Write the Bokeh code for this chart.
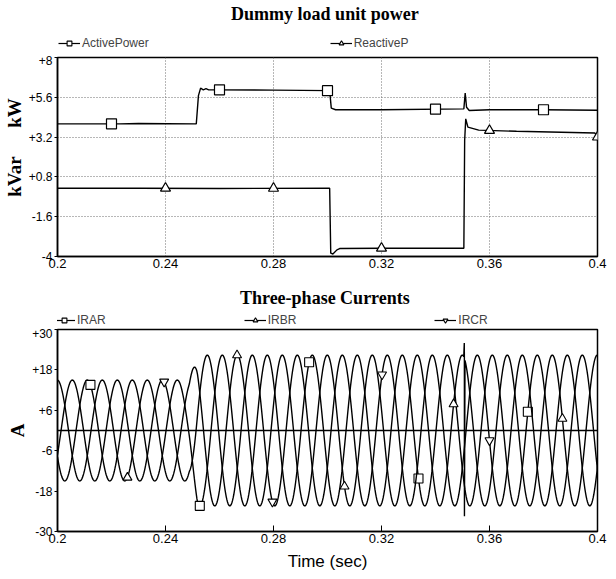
import numpy as np
from bokeh.plotting import figure
from bokeh.layouts import column
from bokeh.models import FixedTicker, Legend, LegendItem, Label, Range1d, Span
from bokeh.embed import file_html
from bokeh.resources import INLINE

# ---------------- data ----------------
X_TICKS = [0.2, 0.24, 0.28, 0.32, 0.36, 0.4]
X_TICK_LABELS = ["0.2", "0.24", "0.28", "0.32", "0.36", "0.4"]

P_TICKS = [-4, -1.6, 0.8, 3.2, 5.6, 8]
P_TICK_LABELS = ["-4", "-1.6", "+0.8", "+3.2", "+5.6", "+8"]

I_TICKS = [-30, -18, -6, 6, 18, 30]
I_TICK_LABELS = ["-30", "-18", "-6", "+6", "+18", "+30"]

# Dummy load unit power
ACTIVE_T = [0.2, 0.2230, 0.2300, 0.2514, 0.2522, 0.2530, 0.2540, 0.2550, 0.2560, 0.2580,
            0.2800, 0.3008, 0.3014, 0.3030, 0.3200, 0.3505, 0.3510, 0.3515, 0.3525, 0.3600, 0.3800, 0.4]
ACTIVE_KW = [4.0, 4.0, 4.02, 4.0, 5.7, 6.15, 6.05, 6.12, 6.05, 6.05,
             6.03, 6.0, 4.95, 4.85, 4.85, 4.9, 5.85, 5.0, 4.8, 4.85, 4.85, 4.82]
REACTIVE_T = [0.2, 0.2300, 0.2600, 0.3008, 0.3012, 0.3020, 0.3035, 0.3045, 0.3200, 0.3505,
              0.3508, 0.3512, 0.3520, 0.3560, 0.3700, 0.3990, 0.4]
REACTIVE_KVAR = [0.12, 0.12, 0.1, 0.12, -3.8, -3.85, -3.6, -3.52, -3.5, -3.5,
                 3.0, 4.3, 3.8, 3.62, 3.55, 3.45, 3.2]
ACTIVE_MARK_T = [0.22, 0.26, 0.30, 0.34, 0.38]
REACTIVE_MARK_T = [0.24, 0.28, 0.32, 0.36, 0.40]

# Three-phase currents (60 Hz, amplitude step at ~0.25 s)
FREQ_HZ = 60.0
AMP_T = [0.2, 0.2488, 0.2518, 0.4]
AMP_A = [15.0, 15.0, 22.4, 22.4]
PHASE_CYCLES = {"IRAR": 0.588, "IRBR": 0.255, "IRCR": 0.921}
SPIKE_T = [0.35066, 0.35072]          # switching transient on IRBR
SPIKE_A = [26.0, -25.5]
ZERO_LEVEL = 0.0
IRAR_MARK_T = [0.2122, 0.2527, 0.2932, 0.3337, 0.3742]
IRBR_MARK_T = [0.2259, 0.2665, 0.3063, 0.3467, 0.3870]
IRCR_MARK_T = [0.2395, 0.2796, 0.3202, 0.3600]

TITLE_TOP = "Dummy load unit power"
TITLE_BOTTOM = "Three-phase Currents"

# ---------------- styling helpers ----------------
SANS = "Liberation Sans"
SERIF = "Liberation Serif"
NBSP = "\u00a0"
W = 616


def style_axes(p, y_ticks, y_labels):
    p.xaxis.ticker = FixedTicker(ticks=X_TICKS)
    p.xaxis.major_label_overrides = {t: s for t, s in zip(X_TICKS, X_TICK_LABELS)}
    p.yaxis.ticker = FixedTicker(ticks=y_ticks)
    p.yaxis.major_label_overrides = {t: s for t, s in zip(y_ticks, y_labels)}
    for ax in (p.xaxis, p.yaxis):
        ax.minor_tick_line_color = None
        ax.axis_line_color = "black"
        ax.axis_line_width = 1.5
        ax.major_tick_line_color = "black"
        ax.major_label_text_font = SANS
        ax.major_label_text_color = "black"
    p.xaxis.major_label_text_font_size = "13px"
    p.yaxis.major_label_text_font_size = "12px"
    p.yaxis.major_tick_out = 3
    p.yaxis.major_tick_in = 0
    p.yaxis.major_label_standoff = 2
    p.xaxis.major_label_standoff = 2
    p.yaxis.axis_label_text_font = SERIF
    p.yaxis.axis_label_text_font_style = "bold"
    p.yaxis.axis_label_text_font_size = "19px"
    p.yaxis.axis_label_text_color = "black"
    p.yaxis.axis_label_standoff = 1
    p.outline_line_color = "black"
    p.outline_line_width = 1.5
    p.background_fill_color = "white"
    p.border_fill_color = "white"


def header(height, title, title_y, specs, spacing, legend_x, legend_y):
    h = figure(width=W, height=height, x_range=Range1d(0, W), y_range=Range1d(height, 0),
               output_backend="svg", toolbar_location=None, title=None,
               x_axis_location=None, y_axis_location=None,
               min_border_left=0, min_border_right=0, min_border_top=0, min_border_bottom=0)
    h.grid.visible = False
    h.outline_line_color = None
    h.border_fill_color = "white"
    items = []
    for label, marker in specs:
        # legend-only renderers (a single undefined point, nothing is drawn in the frame)
        ln = h.line([np.nan], [np.nan], line_color="black", line_width=1.2)
        sc = h.scatter([np.nan], [np.nan], marker=marker, size=9, line_color="black",
                       fill_color="white", line_width=1.1)
        items.append(LegendItem(label=label, renderers=[ln, sc]))
    h.add_layout(Legend(items=items, orientation="horizontal", location=(legend_x, legend_y),
                        spacing=spacing, padding=0, margin=0, glyph_width=22, glyph_height=12,
                        label_height=12, label_standoff=2, label_text_font=SANS,
                        label_text_font_size="12px", background_fill_alpha=0,
                        border_line_color=None))
    h.add_layout(Label(x=W / 2 - 3, y=title_y, text=title, text_align="center",
                       text_baseline="middle", text_font=SERIF, text_font_style="bold",
                       text_font_size="18px", text_color="black"))
    return h


# ---------------- top panel ----------------
h1 = header(55, TITLE_TOP, 13, [("ActivePower", "square"), ("ReactiveP", "triangle")],
            181, 1, 5)

p1 = figure(width=W, height=223, x_range=Range1d(0.2, 0.4), y_range=Range1d(-4, 8),
            output_backend="svg", toolbar_location=None, title=None,
            min_border_left=57, min_border_right=19, min_border_top=2, min_border_bottom=22)
style_axes(p1, P_TICKS, P_TICK_LABELS)
p1.xaxis.major_tick_out = 0
p1.xaxis.major_tick_in = 0
p1.grid.grid_line_color = "#6e6e6e"
p1.grid.grid_line_dash = "1 2"
p1.grid.grid_line_width = 1
p1.yaxis.axis_label = NBSP * 4 + "kVar" + NBSP * 6 + "kW"

p1.line(ACTIVE_T, ACTIVE_KW, line_color="black", line_width=1.4)
p1.scatter(ACTIVE_MARK_T, list(np.interp(ACTIVE_MARK_T, ACTIVE_T, ACTIVE_KW)),
           marker="square", size=10, line_color="black", fill_color="white", line_width=1.2)
p1.line(REACTIVE_T, REACTIVE_KVAR, line_color="black", line_width=1.4)
p1.scatter(REACTIVE_MARK_T, list(np.interp(REACTIVE_MARK_T, REACTIVE_T, REACTIVE_KVAR)),
           marker="triangle", size=10, line_color="black", fill_color="white", line_width=1.2)

# ---------------- bottom panel ----------------
t = np.arange(0.2, 0.4 + 1e-9, 1.0 / (FREQ_HZ * 72))
amp = np.interp(t, AMP_T, AMP_A)
curr = {}
for name, ph in PHASE_CYCLES.items():
    curr[name] = (t, amp * np.sin(2 * np.pi * (FREQ_HZ * t + ph)))
tb, yb = curr["IRBR"]
tb2 = np.concatenate([tb, SPIKE_T])
yb2 = np.concatenate([yb, SPIKE_A])
order = np.argsort(tb2, kind="stable")
curr["IRBR"] = (tb2[order], yb2[order])

h2 = header(50, TITLE_BOTTOM, 19, [("IRAR", "square"), ("IRBR", "triangle"),
                                   ("IRCR", "inverted_triangle")], 138, -4, 1)

p2 = figure(width=W, height=251, x_range=Range1d(0.2, 0.4), y_range=Range1d(-30, 30),
            output_backend="svg", toolbar_location=None, title=None,
            min_border_left=57, min_border_right=19, min_border_top=1, min_border_bottom=48)
style_axes(p2, I_TICKS, I_TICK_LABELS)
p2.grid.grid_line_color = None
p2.xaxis.major_tick_in = 6
p2.xaxis.major_tick_out = 0
p2.yaxis.axis_label = "A"
p2.xaxis.axis_label = "Time (sec)"
p2.xaxis.axis_label_text_font = SANS
p2.xaxis.axis_label_text_font_style = "normal"
p2.xaxis.axis_label_text_font_size = "17px"
p2.xaxis.axis_label_text_color = "black"
p2.xaxis.axis_label_standoff = 6

p2.add_layout(Span(location=ZERO_LEVEL, dimension="width", line_color="black", line_width=1.6))

markers = {"IRAR": ("square", IRAR_MARK_T), "IRBR": ("triangle", IRBR_MARK_T),
           "IRCR": ("inverted_triangle", IRCR_MARK_T)}
for name in ["IRAR", "IRBR", "IRCR"]:
    tx, ty = curr[name]
    p2.line(tx, ty, line_color="black", line_width=1.4)
    mk, mt = markers[name]
    p2.scatter(mt, list(np.interp(mt, tx, ty)), marker=mk, size=9,
               line_color="black", fill_color="white", line_width=1.1)

layout = column(h1, p1, h2, p2, spacing=0)
open("out.html", "w").write(file_html(layout, INLINE))
